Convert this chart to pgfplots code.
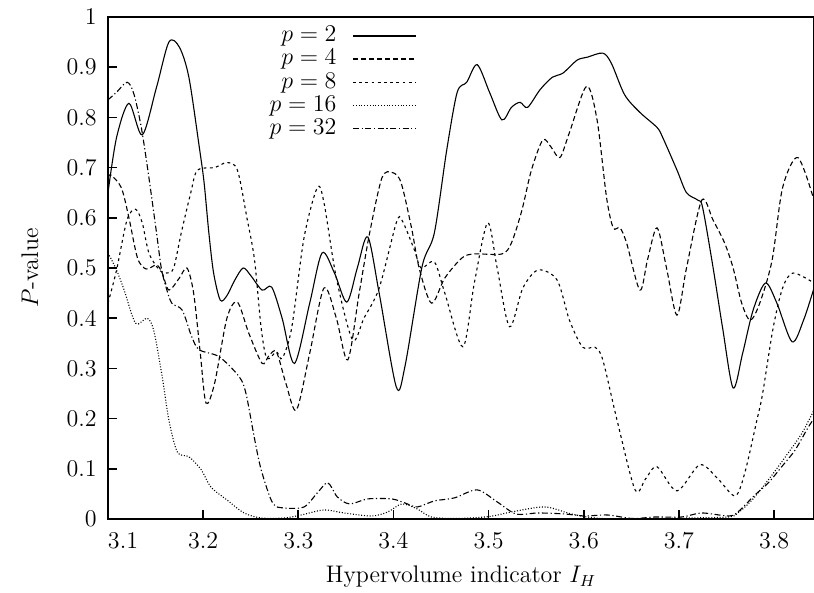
\documentclass[border=0pt]{standalone}
\usepackage{pgfplots}
\pgfplotsset{compat=1.18}
\begin{document}
\fontsize{12}{14}\selectfont
\begin{tikzpicture}[font=\fontsize{12}{14}\selectfont]
\begin{axis}[
  at={(0,0)}, anchor=south west,
  scale only axis, width=353pt, height=251pt,
  xmin=3.1, xmax=3.842, ymin=0, ymax=1,
  xtick={3.1,3.2,3.3,3.4,3.5,3.6,3.7,3.8},
  xticklabels={\makebox[0pt][l]{3.1},3.2,3.3,3.4,3.5,3.6,3.7,3.8},
  ytick={0,0.1,0.2,0.3,0.4,0.5,0.6,0.7,0.8,0.9,1},
  yticklabels={0,0.1,0.2,0.3,0.4,0.5,0.6,0.7,0.8,0.9,1},
  tick align=inside, xtick pos=bottom, ytick pos=left,
  major tick length=4.5pt,
  axis line style={line width=1pt},
  every tick/.style={black, line width=0.8pt},
  x tick label style={font=\fontsize{12}{14}\selectfont, yshift=-2.5pt},
  y tick label style={font=\fontsize{12}{14}\selectfont, xshift=-1.5pt},
  xlabel={Hypervolume indicator $I_H$},
  ylabel={$P$-value},
  x label style={at={(axis description cs:0.5,-0.1155)}, anchor=center, font=\fontsize{12}{14}\selectfont},
  y label style={at={(axis description cs:-0.1105,0.5)}, anchor=center, font=\fontsize{12}{14}\selectfont},
  legend plot pos=right,
  legend cell align=right,
  legend style={at={(0.4377,0.986)}, anchor=north east, draw=none, fill=none, inner sep=0pt, row sep=0pt,
    nodes={inner sep=1pt, font=\fontsize{12}{14}\selectfont},
    /tikz/every odd column/.append style={column sep=7pt}},
  legend image code/.code={\draw[#1] (0pt,0pt) -- (31.5pt,0pt);},
  every axis plot/.append style={line width=0.55pt, black, smooth, tension=0.5},
]
% p = 2
\addplot[solid] coordinates {
(3.100,0.650) (3.109,0.760) (3.122,0.828) (3.136,0.765) (3.151,0.860) (3.164,0.950)
(3.175,0.940) (3.185,0.880) (3.196,0.740) (3.201,0.670) (3.206,0.570) (3.211,0.490)
(3.218,0.436) (3.225,0.445) (3.233,0.475) (3.242,0.500) (3.250,0.485) (3.262,0.456)
(3.272,0.462) (3.283,0.400) (3.296,0.310) (3.312,0.430) (3.325,0.530) (3.338,0.490)
(3.351,0.432) (3.362,0.500) (3.373,0.562) (3.385,0.450) (3.403,0.263) (3.412,0.303)
(3.430,0.502) (3.443,0.570) (3.456,0.735) (3.467,0.850) (3.477,0.870) (3.488,0.905)
(3.501,0.850) (3.514,0.795) (3.524,0.820) (3.533,0.830) (3.541,0.820) (3.554,0.855)
(3.567,0.880) (3.578,0.888) (3.593,0.914) (3.604,0.920) (3.620,0.928) (3.629,0.908)
(3.643,0.845) (3.659,0.810) (3.677,0.780) (3.683,0.760) (3.698,0.695) (3.708,0.650)
(3.720,0.635) (3.725,0.620) (3.736,0.500) (3.746,0.380) (3.757,0.261) (3.767,0.330)
(3.778,0.416) (3.791,0.470) (3.803,0.430) (3.819,0.353) (3.831,0.396) (3.842,0.460)
};
\addlegendentry{$p=2$}
% p = 4
\addplot[dash pattern=on 2.5pt off 1.5pt] coordinates {
(3.100,0.680) (3.103,0.685) (3.114,0.660) (3.122,0.600) (3.131,0.520) (3.140,0.498)
(3.151,0.506) (3.157,0.490) (3.164,0.456) (3.175,0.480) (3.183,0.500) (3.190,0.450)
(3.197,0.330) (3.203,0.231) (3.212,0.270) (3.225,0.400) (3.236,0.432) (3.248,0.370)
(3.262,0.310) (3.269,0.325) (3.277,0.333) (3.287,0.270) (3.298,0.217) (3.312,0.330)
(3.327,0.460) (3.340,0.400) (3.352,0.317) (3.364,0.450) (3.375,0.570) (3.388,0.680)
(3.399,0.690) (3.408,0.670) (3.419,0.580) (3.427,0.500) (3.440,0.430) (3.454,0.480)
(3.472,0.520) (3.485,0.528) (3.514,0.528) (3.524,0.550) (3.535,0.615) (3.545,0.695)
(3.557,0.755) (3.566,0.740) (3.575,0.720) (3.585,0.770) (3.603,0.862) (3.614,0.795)
(3.624,0.640) (3.631,0.580) (3.638,0.580) (3.645,0.550) (3.659,0.456) (3.667,0.516)
(3.677,0.580) (3.687,0.500) (3.698,0.406) (3.708,0.500) (3.724,0.635) (3.736,0.595)
(3.748,0.550) (3.757,0.500) (3.766,0.430) (3.775,0.396) (3.785,0.430) (3.798,0.516)
(3.809,0.660) (3.825,0.720) (3.842,0.635)
};
\addlegendentry{$p=4$}
% p = 8
\addplot[dash pattern=on 1.4pt off 1.7pt] coordinates {
(3.100,0.430) (3.109,0.496) (3.120,0.596) (3.129,0.617) (3.136,0.590) (3.143,0.530)
(3.154,0.496) (3.162,0.490) (3.169,0.500) (3.177,0.570) (3.187,0.650) (3.194,0.695)
(3.212,0.700) (3.225,0.710) (3.236,0.695) (3.246,0.600) (3.254,0.516) (3.261,0.380)
(3.267,0.320) (3.277,0.333) (3.283,0.320) (3.293,0.380) (3.306,0.560) (3.320,0.660)
(3.327,0.630) (3.340,0.480) (3.357,0.357) (3.369,0.400) (3.385,0.460) (3.403,0.590)
(3.409,0.595) (3.422,0.536) (3.429,0.500) (3.443,0.512) (3.454,0.450) (3.473,0.343)
(3.485,0.470) (3.499,0.590) (3.509,0.500) (3.522,0.383) (3.536,0.460) (3.552,0.496)
(3.572,0.476) (3.585,0.396) (3.599,0.342) (3.612,0.342) (3.620,0.317) (3.635,0.197)
(3.654,0.058) (3.665,0.080) (3.677,0.104) (3.698,0.056) (3.722,0.108) (3.741,0.080)
(3.759,0.046) (3.769,0.090) (3.782,0.197) (3.788,0.250) (3.799,0.380) (3.809,0.460)
(3.820,0.490) (3.842,0.470)
};
\addlegendentry{$p=8$}
% p = 16
\addplot[dash pattern=on 0.5pt off 0.9pt] coordinates {
(3.100,0.530) (3.109,0.496) (3.117,0.456) (3.129,0.390) (3.141,0.400) (3.148,0.376)
(3.157,0.283) (3.164,0.197) (3.173,0.133) (3.185,0.124) (3.198,0.098) (3.208,0.064)
(3.225,0.038) (3.243,0.012) (3.261,0.002) (3.285,0.002) (3.303,0.008) (3.327,0.018)
(3.348,0.012) (3.377,0.006) (3.394,0.014) (3.409,0.030) (3.425,0.020) (3.440,0.004)
(3.467,0.001) (3.501,0.005) (3.524,0.014) (3.559,0.024) (3.587,0.010) (3.612,0.002)
(3.646,0.000) (3.709,0.002) (3.752,0.004) (3.762,0.012) (3.777,0.038) (3.794,0.078)
(3.812,0.124) (3.829,0.170) (3.842,0.217)
};
\addlegendentry{$p=16$}
% p = 32
\addplot[dash pattern=on 3pt off 1.3pt on 0.6pt off 1.3pt] coordinates {
(3.100,0.835) (3.109,0.850) (3.120,0.870) (3.127,0.848) (3.135,0.780) (3.143,0.680)
(3.151,0.570) (3.156,0.500) (3.161,0.462) (3.167,0.430) (3.178,0.416) (3.188,0.363)
(3.196,0.337) (3.217,0.323) (3.238,0.283) (3.245,0.250) (3.254,0.160) (3.261,0.098)
(3.273,0.032) (3.285,0.022) (3.306,0.024) (3.320,0.052) (3.331,0.072) (3.341,0.044)
(3.354,0.030) (3.373,0.040) (3.398,0.040) (3.412,0.032) (3.425,0.024) (3.443,0.036)
(3.464,0.042) (3.488,0.058) (3.509,0.034) (3.529,0.010) (3.552,0.012) (3.580,0.010)
(3.601,0.006) (3.625,0.008) (3.651,0.001) (3.675,0.004) (3.703,0.004) (3.724,0.012)
(3.752,0.006) (3.762,0.014) (3.780,0.048) (3.794,0.072) (3.808,0.104) (3.822,0.137)
(3.836,0.183) (3.842,0.200)
};
\addlegendentry{$p=32$}
\end{axis}
\pgfresetboundingbox
\path[use as bounding box] (-54pt,-37pt) rectangle (353pt,259.5pt);
\end{tikzpicture}
\end{document}
